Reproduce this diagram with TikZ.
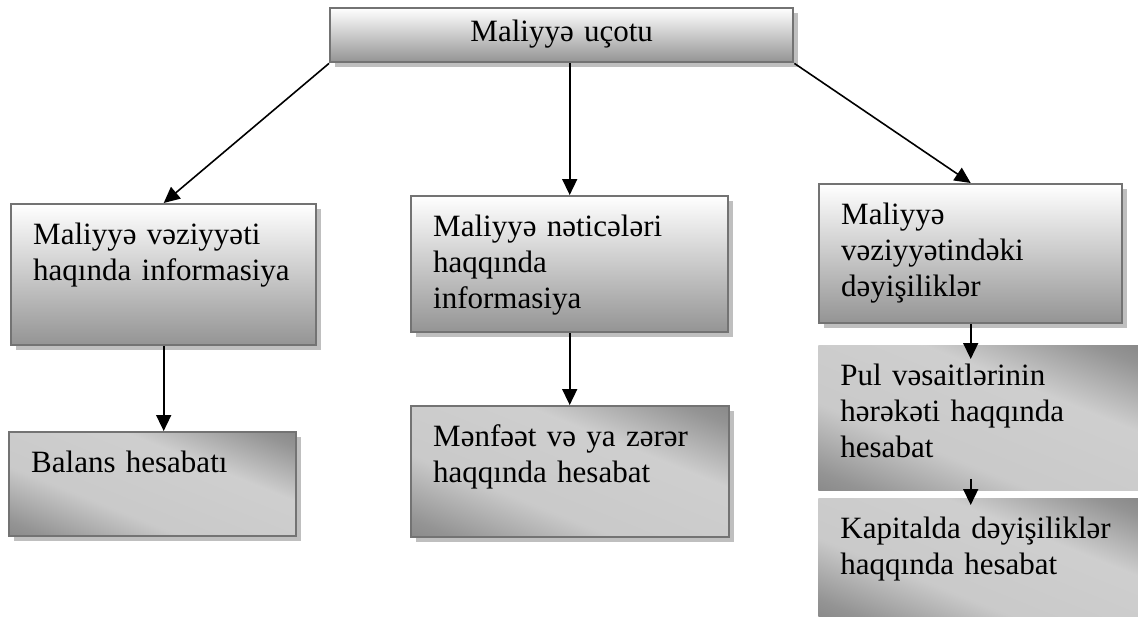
\documentclass[tikz,border=0pt]{standalone}
\usepackage{fontspec}
\setmainfont{Liberation Serif}
\usepackage{tikz}
\usetikzlibrary{arrows.meta}
\usetikzlibrary{shadows}

\pgfdeclareverticalshading{brush}{100bp}{color(0bp)=(black!60); color(22bp)=(black!42); color(38bp)=(black!21); color(62bp)=(black!19); color(78bp)=(black!42); color(100bp)=(black!62)}

\tikzset{
	ubox/.style={draw=black!55, line width=1.2pt, top color=white, bottom color=black!42, inner xsep=11pt, inner ysep=0pt, text height=20pt, align=left, anchor=north west, drop shadow={shadow xshift=2.5pt, shadow yshift=-2.5pt, fill=black!25, opacity=1}},
	dbox/.style={shading=brush, shading angle=-22, inner xsep=11pt, inner ysep=0pt, text height=20pt, align=left, anchor=north west},
	dboxs/.style={dbox, draw=black!55, line width=1.2pt, drop shadow={shadow xshift=2.5pt, shadow yshift=-2.5pt, fill=black!25, opacity=1}},
	arr/.style={-{Triangle[length=8pt,width=7.5pt]}, line width=0.8pt}
}

\begin{document}
\begin{tikzpicture}[x=0.5pt, y=-0.5pt, font=\fontsize{15.5}{18}\selectfont]
		\fill[white] (0,0) rectangle (1138,616);
		\useasboundingbox (0,0) rectangle (1138,616);
		\node[ubox, text width=209.5pt, text height=16.5pt, text depth=10.5pt, align=center] (ucot) at (329,7) {Maliyyə uçotu};
		\node[ubox, text width=130.5pt, text depth=50.5pt] (vez) at (10,203) {Maliyyə~vəziyyəti\\haqında~informasiya};
		\node[ubox, text width=136.5pt, text depth=48pt] (net) at (410,195) {Maliyyə~nəticələri\\haqqında\\informasiya};
		\node[ubox, text width=129.5pt, text depth=49.5pt] (deg) at (818,183) {Maliyyə\\vəziyyətindəki\\dəyişiliklər};
		\node[dboxs, text width=121.5pt, text depth=32pt] (bal) at (8,431) {Balans~hesabatı};
		\node[dboxs, text width=137pt, text depth=45.5pt] (men) at (410,405) {Mənfəət~və~ya~zərər\\haqqında~hesabat};
		\node[dbox, text width=138pt, text depth=52.5pt] (pul) at (818,345) {Pul~vəsaitlərinin\\hərəkəti~haqqında\\hesabat};
		\node[dbox, text width=138pt, text depth=39pt] (kap) at (818,498) {Kapitalda~dəyişiliklər\\haqqında~hesabat};
		\coordinate (dp) at (deg.south |- pul.north);
		\coordinate (pk) at (deg.south |- pul.south);
		\coordinate (kp) at (deg.south |- kap.north);
		\draw[arr] (ucot.south west) to (vez.north);
		\draw[arr] (net.north |- ucot.south) to (net.north);
		\draw[arr] (ucot.south east) to (deg.north);
		\draw[arr] (vez.south) to (vez.south |- bal.north);
		\draw[arr] (net.south) to (net.south |- men.north);
		\draw[arr] (deg.south) to ([yshift=-7pt]dp);
		\draw[arr] ([yshift=6pt]pk) to ([yshift=-3.5pt]kp);
		
		\end{tikzpicture}
\end{document}
